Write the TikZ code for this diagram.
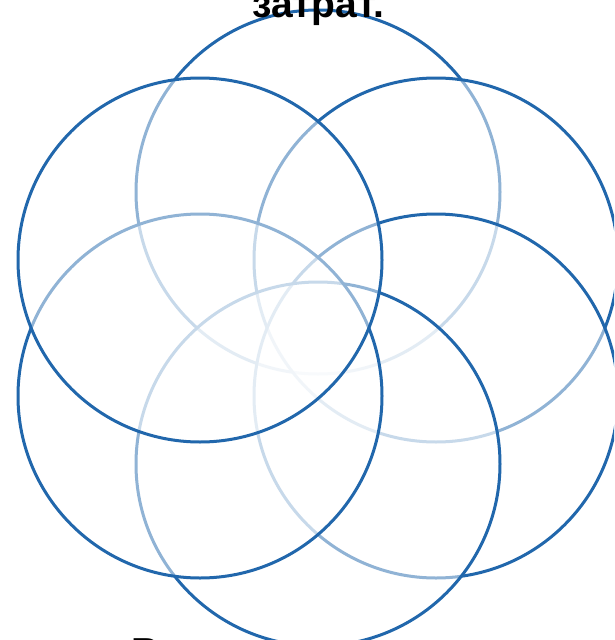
\documentclass[tikz,border=0pt]{standalone}
\usepackage{fontspec}
\setmainfont{Liberation Sans}
\definecolor{petalblue}{RGB}{33,103,172}
\tikzset{
  petal/.style={draw=petalblue, line width=3pt, fill=white, fill opacity=0.5},
  label/.style={font=\fontsize{39}{44}\selectfont\bfseries, text=black, inner sep=0pt}
}
\begin{document}
\begin{tikzpicture}[x=1pt,y=-1pt]
\useasboundingbox (0,0) rectangle (614,640);
\clip (0,0) rectangle (614,640);
\fill[white] (0,0) rectangle (614,640);
% circles, drawn bottom to top
\path[petal] (318,192) circle[radius=182];
\path[petal] (436,260) circle[radius=182];
\path[petal] (436,396) circle[radius=182];
\path[petal] (318,464) circle[radius=182];
\path[petal] (200,396) circle[radius=182];
\path[petal] (200,260) circle[radius=182];
% texts
\node[label, anchor=base] (top) at (318,17) {затрат.};
\node[label, anchor=base west] (bottom) at (131,665) {В};
\end{tikzpicture}
\end{document}
